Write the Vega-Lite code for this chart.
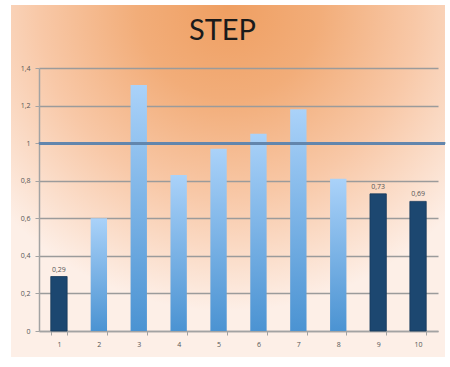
{
  "$schema": "https://vega.github.io/schema/vega-lite/v6.json",
  "width": 434,
  "height": 352,
  "autosize": "none",
  "padding": {"left": 11, "top": 5, "right": 5, "bottom": 10},
  "background": "#ffffff",
  "config": {
    "locale": {"number": {"decimal": ",", "thousands": ".", "grouping": [3], "currency": ["", " €"]}},
    "view": {
      "stroke": null,
      "fill": {
        "gradient": "radial",
        "x1": 0.5, "y1": 0.1, "r1": 0,
        "x2": 0.5, "y2": 0.1, "r2": 0.7,
        "stops": [
          {"offset": 0, "color": "#ef9f62"},
          {"offset": 0.3, "color": "#f2ad79"},
          {"offset": 0.62, "color": "#f8c8a7"},
          {"offset": 1, "color": "#fdefe7"}
        ]
      }
    },
    "axis": {"labelFont": "Open Sans", "labelFontSize": 7, "labelColor": "#555555", "domainColor": "#a3a3a3", "domainWidth": 1.5, "tickColor": "#a3a3a3", "tickWidth": 1, "tickSize": 4, "title": null}
  },
  "data": {
    "values": [
      {"step": 1, "value": 0.29, "group": "marked"},
      {"step": 2, "value": 0.60, "group": "base"},
      {"step": 3, "value": 1.31, "group": "base"},
      {"step": 4, "value": 0.83, "group": "base"},
      {"step": 5, "value": 0.97, "group": "base"},
      {"step": 6, "value": 1.05, "group": "base"},
      {"step": 7, "value": 1.18, "group": "base"},
      {"step": 8, "value": 0.81, "group": "base"},
      {"step": 9, "value": 0.73, "group": "marked"},
      {"step": 10, "value": 0.69, "group": "marked"}
    ]
  },
  "encoding": {
    "x": {
      "field": "step", "type": "ordinal",
      "scale": {"range": [28, 427], "paddingInner": 0.59, "paddingOuter": 0.295},
      "axis": {"orient": "bottom", "offset": -26, "tickBand": "extent", "labelAngle": 0, "labelPadding": 5, "grid": false}
    },
    "y": {
      "field": "value", "type": "quantitative",
      "scale": {"domain": [0, 1.4], "range": [326, 63], "nice": false},
      "axis": {"offset": -28, "values": [0, 0.2, 0.4, 0.6, 0.8, 1, 1.2, 1.4], "format": "~g", "labelPadding": 5, "grid": true, "gridColor": "#9b9b9b", "gridWidth": 1.5}
    }
  },
  "layer": [
    {
      "transform": [{"filter": "datum.group === 'base'"}],
      "mark": {
        "type": "bar",
        "fill": {
          "gradient": "linear", "x1": 0, "y1": 0, "x2": 0, "y2": 1,
          "stops": [
            {"offset": 0, "color": "#aad2f9"},
            {"offset": 1, "color": "#4b93d2"}
          ]
        }
      }
    },
    {
      "transform": [{"filter": "datum.group === 'marked'"}],
      "mark": {"type": "bar", "fill": "#1c4770", "stroke": "#163a5c", "strokeWidth": 0.8}
    },
    {
      "transform": [{"filter": "datum.group === 'marked'"}],
      "mark": {"type": "text", "dy": -7, "font": "Open Sans", "fontSize": 7, "color": "#555555"},
      "encoding": {"text": {"field": "value", "type": "quantitative", "format": ".2f"}}
    },
    {
      "mark": {"type": "rule", "color": "#6386ad", "strokeWidth": 2.5, "opacity": 0.9},
      "encoding": {
        "x": {"datum": 1, "bandPosition": -0.72},
        "x2": {"datum": 10, "bandPosition": 2.15},
        "y": {"datum": 1},
        "y2": null
      }
    },
    {
      "transform": [{"filter": "datum.step === 6"}],
      "mark": {"type": "text", "font": "Lato", "fontSize": 29, "color": "#1a1a1a", "baseline": "alphabetic", "align": "center", "dx": -16},
      "encoding": {
        "x": {"field": "step", "type": "ordinal", "bandPosition": -0.72},
        "y": {"datum": 1.549},
        "text": {"value": "STEP"}
      }
    }
  ]
}
